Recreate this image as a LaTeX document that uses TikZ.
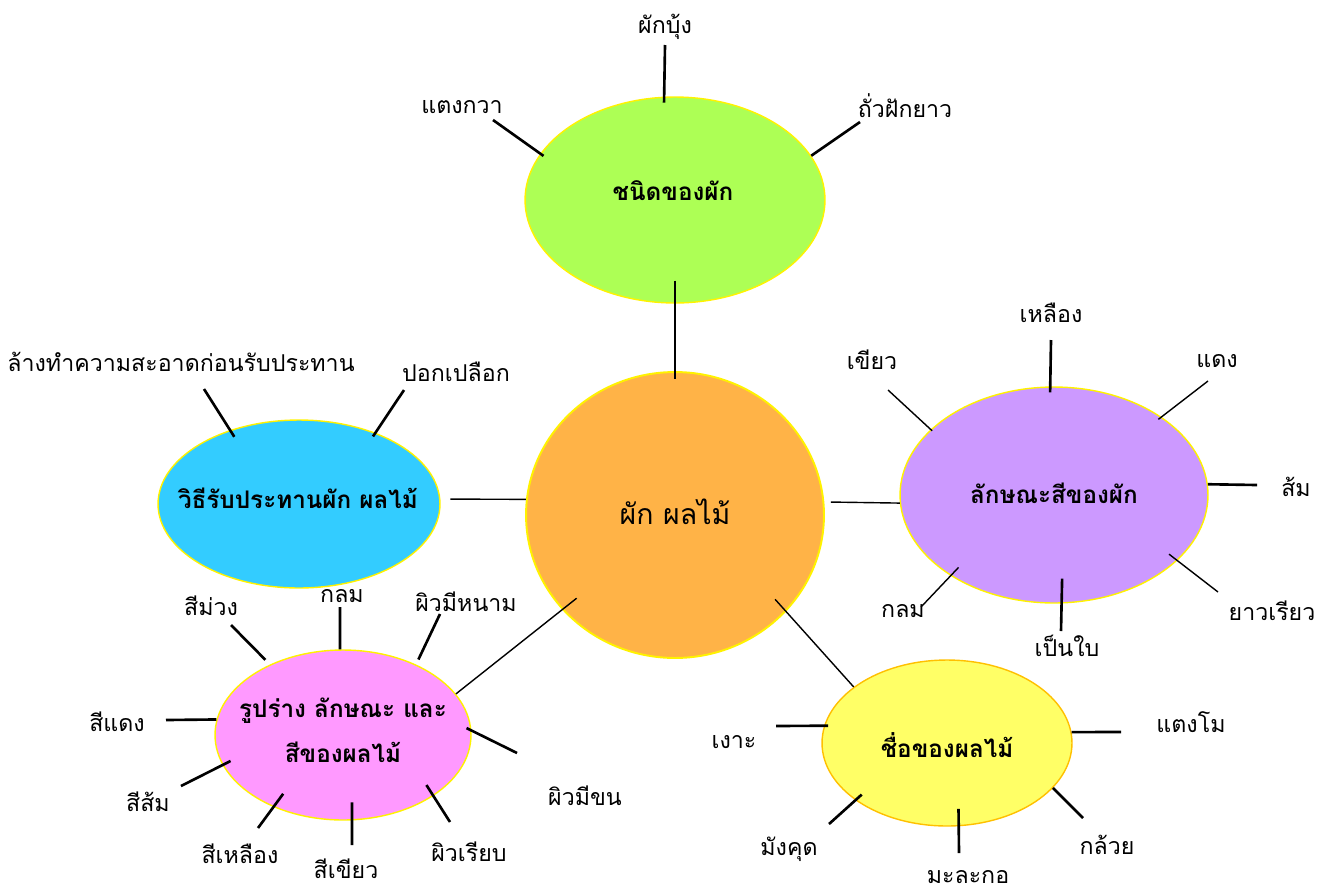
\documentclass[tikz,border=0pt]{standalone}
\usepackage{fontspec}
\newfontfamily\thaifont[Script=Thai]{Loma}
\usetikzlibrary{shapes.geometric}
\definecolor{vegGreen}{HTML}{ADFF55}
\definecolor{colorPurple}{HTML}{CC99FF}
\definecolor{eatBlue}{HTML}{33CCFF}
\definecolor{shapePink}{HTML}{FF99FF}
\definecolor{fruitYellow}{HTML}{FFFF66}
\definecolor{fruitEdge}{HTML}{FFC000}
\definecolor{mainOrange}{HTML}{FFB347}
\tikzstyle{main-node}=[ellipse,fill=mainOrange,draw=yellow,line width=1.1pt,inner sep=0pt,minimum width=5.96cm,minimum height=5.72cm]
\tikzstyle{main-text}=[inner sep=0pt,font=\thaifont\fontsize{16.2}{20}\selectfont]
\tikzstyle{topic-node}=[ellipse,draw=yellow,line width=0.8pt,inner sep=0pt]
\tikzstyle{topic-text}=[inner sep=0pt,align=center,font=\thaifont\bfseries\fontsize{13.8}{25.5}\selectfont]
\tikzstyle{word-node}=[inner sep=1pt,font=\thaifont\fontsize{13.2}{16}\selectfont]
\tikzstyle{spoke}=[line width=1.5pt]
\tikzstyle{thin-spoke}=[line width=0.8pt]

\begin{document}
\begin{tikzpicture}[x=0.02cm,y=-0.02cm]
    \useasboundingbox (0,0) rectangle (1331,893);
    \begin{scope}
        % centre and the five topics
        \node[topic-node,fill=vegGreen,minimum width=6cm,minimum height=4.12cm] at (675,200) (veg) {};
        \node[topic-node,fill=colorPurple,minimum width=6.16cm,minimum height=4.32cm] at (1054,495) (colour) {};
        \node[topic-node,fill=eatBlue,minimum width=5.64cm,minimum height=3.36cm] at (299,504) (eat) {};
        \node[topic-node,fill=shapePink,minimum width=5.12cm,minimum height=3.4cm] at (343,735) (shape) {};
        \node[topic-node,fill=fruitYellow,draw=fruitEdge,minimum width=5cm,minimum height=3.32cm] at (947,743) (fruit) {};
        \node[main-node] at (675,515) (main) {};

        \node[topic-text] at (673,191) (veg-title) {ชนิดของผัก};
        \node[topic-text] at (1054,493) (colour-title) {ลักษณะสีของผัก};
        \node[topic-text] at (298,498) (eat-title) {วิธีรับประทานผัก ผลไม้};
        \node[topic-text] at (343,730) (shape-title) {รูปร่าง ลักษณะ และ\\สีของผลไม้};
        \node[topic-text] at (947,745) (fruit-title) {ชื่อของผลไม้};
        \node[main-text] at (675,512) (main-title) {ผัก ผลไม้};

        \draw[thin-spoke,shorten <=-0.46cm,shorten >=-0.16cm] (veg.south) -- (main.north);
        \draw[thin-spoke,shorten <=0.13cm] (main.5) -- (colour.183);
        \draw[thin-spoke,shorten <=0.2cm] (eat.2) -- (main.174);
        \draw[thin-spoke,shorten >=-0.37cm] (shape.20) -- (main.220);
        \draw[thin-spoke,shorten <=-0.33cm] (main.-41) -- (fruit.149);

        % words round the topics
        \node[word-node] at (665,27) (kangkong) {ผักบุ้ง};
        \node[word-node] at (462,107) (cucumber) {แตงกวา};
        \node[word-node] at (905,106) (yardbean) {ถั่วฝักยาว};
        \node[word-node] at (1051,313) (c-yellow) {เหลือง};
        \node[word-node] at (872,360) (c-green) {เขียว};
        \node[word-node] at (1217,361) (c-red) {แดง};
        \node[word-node] at (1296,487) (c-orange) {ส้ม};
        \node[word-node] at (1272,611) (c-long) {ยาวเรียว};
        \node[word-node] at (1067,646) (c-leaf) {เป็นใบ};
        \node[word-node] at (903,611) (c-round) {กลม};
        \node[word-node] at (181,362) (wash) {ล้างทำความสะอาดก่อนรับประทาน};
        \node[word-node] at (456,372) (peel) {ปอกเปลือก};
        \node[word-node] at (211,606) (s-purple) {สีม่วง};
        \node[word-node] at (342,596) (s-round) {กลม};
        \node[word-node] at (466,602) (s-thorny) {ผิวมีหนาม};
        \node[word-node] at (117,722) (s-red) {สีแดง};
        \node[word-node] at (585,796) (s-hairy) {ผิวมีขน};
        \node[word-node] at (148,802) (s-orange) {สีส้ม};
        \node[word-node] at (240,854) (s-yellow) {สีเหลือง};
        \node[word-node] at (346,869) (s-green) {สีเขียว};
        \node[word-node] at (469,852) (s-smooth) {ผิวเรียบ};
        \node[word-node] at (734,742) (rambutan) {เงาะ};
        \node[word-node] at (1191,722) (watermelon) {แตงโม};
        \node[word-node] at (789,849) (mangosteen) {มังคุด};
        \node[word-node] at (968,877) (papaya) {มะละกอ};
        \node[word-node] at (1107,845) (banana) {กล้วย};

        \coordinate (kangkong-tip) at (665,45);
        \coordinate (cucumber-tip) at (493,120);
        \coordinate (yardbean-tip) at (860,122);
        \coordinate (c-yellow-tip) at (1051,340);
        \coordinate (c-green-tip) at (888,390);
        \coordinate (c-red-tip) at (1208,381);
        \coordinate (c-orange-tip) at (1257,485);
        \coordinate (c-long-tip) at (1218,592);
        \coordinate (c-leaf-tip) at (1061,631);
        \coordinate (c-round-tip) at (921,607);
        \coordinate (wash-tip) at (204,389);
        \coordinate (peel-tip) at (404,390);
        \coordinate (s-purple-tip) at (231,625);
        \coordinate (s-round-tip) at (340,607);
        \coordinate (s-thorny-tip) at (440,614);
        \coordinate (s-red-tip) at (166,720);
        \coordinate (s-hairy-tip) at (517,753);
        \coordinate (s-orange-tip) at (181,786);
        \coordinate (s-yellow-tip) at (258,828);
        \coordinate (s-green-tip) at (352,845);
        \coordinate (s-smooth-tip) at (450,822);
        \coordinate (rambutan-tip) at (776,726);
        \coordinate (watermelon-tip) at (1121,732);
        \coordinate (mangosteen-tip) at (829,824);
        \coordinate (papaya-tip) at (959,853);
        \coordinate (banana-tip) at (1083,818);

        \foreach \a/\b/\s in {kangkong/veg.96/-0.12cm, cucumber/veg.161/-0.08cm, yardbean/veg.18/0cm,
            c-yellow/colour.92/-0.12cm, c-orange/colour.4/0cm, c-leaf/colour.-86/-0.5cm,
            wash/eat.133/-0.16cm, peel/eat.43/-0.09cm,
            s-purple/shape.136/0.13cm, s-round/shape.92/0cm, s-thorny/shape.44/0.11cm,
            s-red/shape.173/0cm, s-hairy/shape.2/-0.11cm, s-orange/shape.-166/-0.18cm,
            s-yellow/shape.-134/-0.33cm, s-green/shape.-84/-0.36cm, s-smooth/shape.-34/-0.26cm,
            rambutan/fruit.172/-0.08cm, watermelon/fruit.5/0cm, mangosteen/fruit.-148/-0.17cm,
            papaya/fruit.-82/-0.35cm, banana/fruit.-23/0cm}
            \draw[spoke,shorten >=\s] (\a-tip) -- (\b);
        \foreach \a/\b/\s in {c-green/colour.152/-0.04cm, c-red/colour.36/-0.08cm,
            c-long/colour.-28/-0.21cm, c-round/colour.-142/-0.23cm}
            \draw[thin-spoke,shorten >=\s] (\a-tip) -- (\b);
    \end{scope}
\end{tikzpicture}
\end{document}
